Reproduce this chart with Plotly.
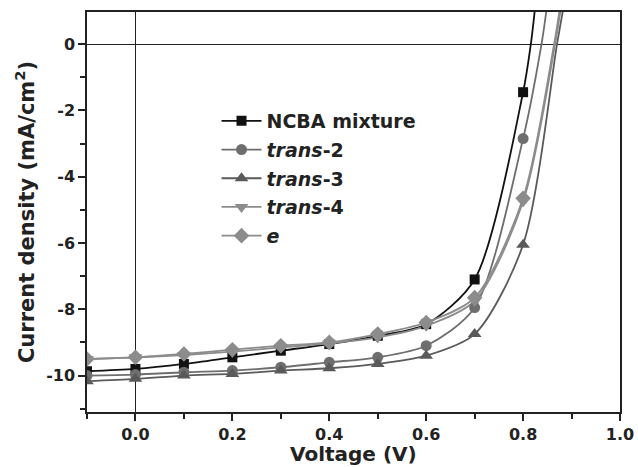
import plotly.graph_objects as go

# ---- data ----
voltage = [-0.1, 0.0, 0.1, 0.2, 0.3, 0.4, 0.5, 0.6, 0.7, 0.8]
series_names = ["NCBA mixture", "<i>trans</i>-2", "<i>trans</i>-3", "<i>trans</i>-4", "<i>e</i>"]
j_ncba   = [-9.87, -9.80, -9.65, -9.45, -9.25, -9.05, -8.80, -8.45, -7.10, -1.45]
j_trans2 = [-10.00, -9.97, -9.90, -9.85, -9.75, -9.60, -9.45, -9.10, -7.95, -2.85]
j_trans3 = [-10.17, -10.10, -10.00, -9.95, -9.85, -9.78, -9.65, -9.40, -8.75, -6.05]
j_trans4 = [-9.50, -9.45, -9.38, -9.28, -9.15, -9.03, -8.85, -8.50, -7.75, -4.75]
j_e      = [-9.50, -9.45, -9.35, -9.22, -9.10, -9.00, -8.75, -8.40, -7.65, -4.65]
# fitted-curve continuation beyond the last measured point (V, J)
ext_v = [[0.816, 0.824], [0.838, 0.848], [0.870, 0.882], [0.866, 0.877], [0.864, 0.875]]
ext_j = [[0.0, 1.0], [0.0, 1.0], [0.0, 1.0], [0.0, 1.0], [0.0, 1.0]]

y_tickvals = [-10, -8, -6, -4, -2, 0]
y_ticktext = ["-10", "-8", "-6", "-4", "-2", "0"]
y_minorvals = [-11, -9, -7, -5, -3, -1]
x_title = "Voltage (V)"
y_title = "Current density (mA/cm<sup>2</sup>)"

colors = ["#111111", "#6e6e6e", "#5a5a5a", "#8c8c8c", "#8c8c8c"]
symbols = ["square", "circle", "triangle-up", "triangle-down", "diamond"]
msizes = [10, 11, 12, 12, 12]
all_j = [j_ncba, j_trans2, j_trans3, j_trans4, j_e]

fig = go.Figure()
for i, (name, jv) in enumerate(zip(series_names, all_j)):
    fig.add_trace(go.Scatter(
        x=voltage + ext_v[i], y=jv + ext_j[i], mode="lines",
        line=dict(color=colors[i], width=1.8, shape="spline", smoothing=0.8),
        showlegend=False, hoverinfo="skip"))
for i, (name, jv) in enumerate(zip(series_names, all_j)):
    fig.add_trace(go.Scatter(
        x=voltage, y=jv, mode="markers",
        marker=dict(color=colors[i], symbol=symbols[i], size=msizes[i]),
        showlegend=False))
for i, name in enumerate(series_names):
    fig.add_trace(go.Scatter(
        x=[None], y=[None], mode="lines+markers", name=name,
        legendgroup="g%d" % i,
        line=dict(color=colors[i], width=1.8),
        marker=dict(color=colors[i], symbol=symbols[i], size=msizes[i])))

font_family = "DejaVu Sans, Liberation Sans, Arial, sans-serif"
tick_font = dict(family=font_family, size=16, color="#222", weight="bold")
title_font = dict(family=font_family, size=21, color="#222", weight="bold")
axis_common = dict(
    showline=True, linecolor="#222", linewidth=1.5, mirror=True,
    ticks="outside", ticklen=7, tickwidth=1.5, tickcolor="#222",
    showgrid=False, zeroline=True, zerolinecolor="#222", zerolinewidth=1.2,
    tickfont=tick_font, automargin=False,
)
fig.update_xaxes(
    range=[-0.1, 1.0], dtick=0.2, tick0=0, tickformat=".1f",
    minor=dict(dtick=0.1, ticks="outside", ticklen=5, tickwidth=1.5, tickcolor="#222"),
    **axis_common)
fig.update_yaxes(
    range=[-11.1, 0.97], tickvals=y_tickvals, ticktext=y_ticktext,
    minor=dict(tickvals=y_minorvals, ticks="outside", ticklen=5, tickwidth=1.5, tickcolor="#222"),
    title=dict(text=y_title, font=title_font, standoff=6),
    **axis_common)

fig.add_annotation(
    text=x_title, xref="paper", yref="paper", x=0.5, y=0,
    xanchor="center", yanchor="bottom", yshift=-55, showarrow=False,
    borderpad=0,
    font=dict(family=font_family, size=20, color="#222", weight="bold"))

fig.update_layout(
    width=638, height=467,
    margin=dict(l=87, r=18, t=12, b=55),
    paper_bgcolor="white", plot_bgcolor="white",
    font=dict(family=font_family, color="#222"),
    legend=dict(x=0.243, y=0.775, xanchor="left", yanchor="top",
                font=dict(family=font_family, size=19, color="#222", weight="bold"),
                bgcolor="rgba(0,0,0,0)", tracegroupgap=1, itemwidth=40),
)
fig.write_html("out.html")
